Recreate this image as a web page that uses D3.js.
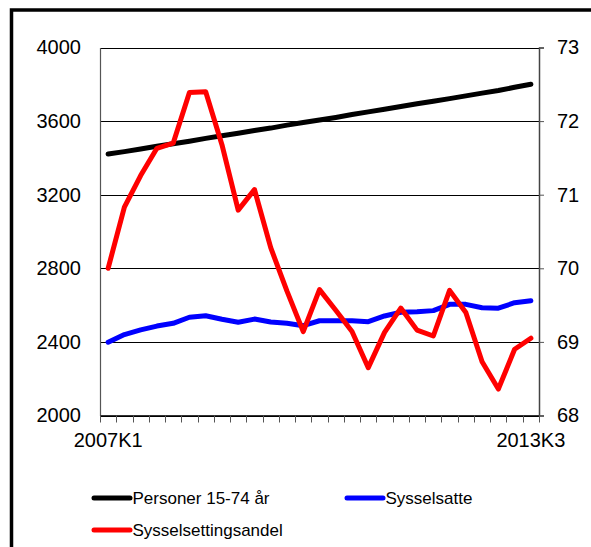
<!DOCTYPE html>
<html>
<head>
<meta charset="utf-8">
<script src="https://cdn.jsdelivr.net/npm/d3@7/dist/d3.min.js"></script>
<style>
  html, body { margin: 0; padding: 0; background: #fff; }
  svg { display: block; font-family: "Liberation Sans", Arial, sans-serif; }
</style>
</head>
<body>
<svg id="chart" width="591" height="547"></svg>
<script>
const categories = [
  "2007K1","2007K2","2007K3","2007K4",
  "2008K1","2008K2","2008K3","2008K4",
  "2009K1","2009K2","2009K3","2009K4",
  "2010K1","2010K2","2010K3","2010K4",
  "2011K1","2011K2","2011K3","2011K4",
  "2012K1","2012K2","2012K3","2012K4",
  "2013K1","2013K2","2013K3"
];
const personer = [3421,3434,3448,3463,3477,3491,3506,3520,3534,3549,3562,3578,3592,3606,3620,3636,3650,3664,3679,3694,3708,3722,3737,3752,3766,3784,3800];
const sysselsatte = [2398,2440,2465,2486,2501,2534,2542,2523,2507,2524,2508,2501,2488,2515,2515,2515,2510,2541,2561,2564,2570,2604,2604,2586,2583,2613,2624];
const andel = [70.00,70.83,71.26,71.63,71.70,72.39,72.40,71.68,70.79,71.07,70.28,69.69,69.14,69.71,69.43,69.14,68.65,69.13,69.46,69.16,69.08,69.70,69.40,68.73,68.36,68.90,69.05];
const leftTicks = [2000,2400,2800,3200,3600,4000];
const rightTicks = [68,69,70,71,72,73];
const xTickLabels = ["2007K1","2013K3"];
const seriesNames = ["Personer 15-74 år","Sysselsatte","Sysselsettingsandel"];
const seriesColors = ["#000000","#0000ff","#ff0000"];

const svg = d3.select("#chart");
const L = 100, R = 539, T = 47.5, B = 415.5;

// outer frame
svg.append("rect").attr("x", 11.5).attr("y", 10).attr("width", 640).attr("height", 600)
  .attr("fill", "none").attr("stroke", "#000").attr("stroke-width", 3.5);

const x = d3.scaleBand().domain(categories).range([L, R]).padding(0);
const yL = d3.scaleLinear().domain([2000, 4000]).range([B, T]);
const yR = d3.scaleLinear().domain([68, 73]).range([B, T]);
const cx = c => x(c) + x.bandwidth() / 2;

// gridlines
svg.append("g").selectAll("line").data(leftTicks).join("line")
  .attr("x1", L).attr("x2", R)
  .attr("y1", d => Math.round(yL(d)) + 0.5).attr("y2", d => Math.round(yL(d)) + 0.5)
  .attr("stroke", "#000").attr("stroke-width", 1);

// left axis
const gL = svg.append("g").attr("transform", `translate(${L},0)`)
  .call(d3.axisLeft(yL).tickValues(leftTicks).tickSize(0).tickPadding(19).tickFormat(d3.format("d")));
gL.select(".domain").attr("stroke", "#555").attr("stroke-width", 1.2);
gL.selectAll("text").attr("font-size", 20).attr("fill", "#000").attr("font-family", "Liberation Sans, Arial, sans-serif");

// right axis
const gR = svg.append("g").attr("transform", `translate(${R},0)`)
  .call(d3.axisRight(yR).tickValues(rightTicks).tickSize(5).tickPadding(13).tickFormat(d3.format("d")));
gR.select(".domain").attr("stroke", "#444").attr("stroke-width", 1.5);
gR.selectAll(".tick line").attr("stroke", "#555");
gR.selectAll("text").attr("font-size", 20).attr("fill", "#000").attr("font-family", "Liberation Sans, Arial, sans-serif");

// bottom axis: ticks at category boundaries
const bounds = categories.map(c => x(c)).concat([x.range()[1]]);
svg.append("line").attr("x1", L).attr("x2", R).attr("y1", B).attr("y2", B).attr("stroke", "#333").attr("stroke-width", 1.2);
svg.append("g").selectAll("line").data(bounds).join("line")
  .attr("x1", d => Math.round(d) + 0.5).attr("x2", d => Math.round(d) + 0.5)
  .attr("y1", B).attr("y2", B + 7).attr("stroke", "#555").attr("stroke-width", 1);
svg.append("g").selectAll("text").data(xTickLabels).join("text")
  .attr("x", d => cx(d)).attr("y", 447)
  .attr("text-anchor", "middle").attr("font-size", 20).attr("fill", "#000")
  .text(d => d);

// lines
const lineL = d3.line().x((d, i) => cx(categories[i])).y(d => yL(d));
const lineR = d3.line().x((d, i) => cx(categories[i])).y(d => yR(d));
svg.append("path").datum(personer).attr("d", lineL).attr("fill", "none")
  .attr("stroke", seriesColors[0]).attr("stroke-width", 5).attr("stroke-linejoin", "round").attr("stroke-linecap", "round");
svg.append("path").datum(sysselsatte).attr("d", lineL).attr("fill", "none")
  .attr("stroke", seriesColors[1]).attr("stroke-width", 5).attr("stroke-linejoin", "round").attr("stroke-linecap", "round");
svg.append("path").datum(andel).attr("d", lineR).attr("fill", "none")
  .attr("stroke", seriesColors[2]).attr("stroke-width", 5).attr("stroke-linejoin", "round").attr("stroke-linecap", "round");

// legend
const legendPos = [{x: 94, y: 498}, {x: 347, y: 498}, {x: 94, y: 530}];
const lg = svg.append("g");
seriesNames.forEach((name, i) => {
  const p = legendPos[i];
  lg.append("line").attr("x1", p.x).attr("x2", p.x + 36).attr("y1", p.y).attr("y2", p.y)
    .attr("stroke", seriesColors[i]).attr("stroke-width", 5).attr("stroke-linecap", "round");
  lg.append("text").attr("x", p.x + 38.5).attr("y", p.y + 6)
    .attr("font-size", 17).attr("fill", "#000").text(name);
});
</script>
</body>
</html>
